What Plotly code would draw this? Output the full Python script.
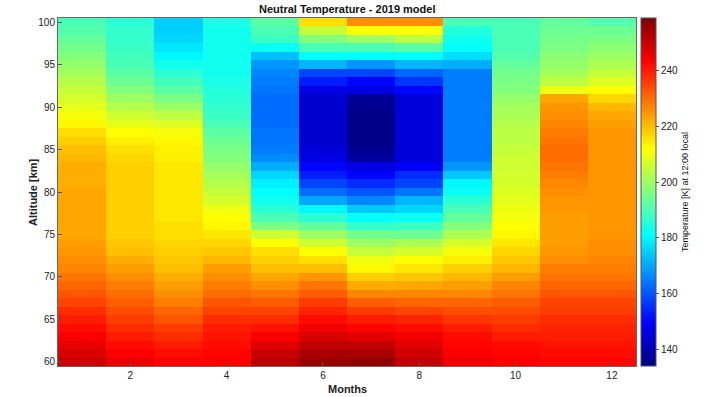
import plotly.graph_objects as go

months = list(range(1, 13))
altitudes = list(range(60, 101))  # km, bottom to top

# Temperature [K] per month, listed from 60 km to 100 km (1 km steps)
jan = [250, 248, 246, 244, 242, 240, 238, 235, 233, 231, 229, 227, 226, 225, 224, 223, 223, 223, 223, 223, 223,
       222, 222, 222, 221, 220, 218, 216, 213, 211, 209, 207, 205, 203, 201, 199, 197, 195, 193, 191, 190]
feb = [246, 244, 242, 240, 238, 236, 234, 232, 230, 228, 226, 224, 222, 220, 219, 218, 218, 218, 218, 218, 218,
       218, 218, 218, 217, 216, 214, 212, 209, 206, 203, 200, 197, 194, 192, 190, 189, 188, 187, 187, 186]
mar = [244, 242, 240, 238, 236, 233, 231, 228, 226, 224, 222, 220, 219, 218, 217, 216, 216, 215, 215, 215, 215,
       215, 215, 215, 214, 214, 213, 211, 208, 204, 200, 196, 192, 189, 186, 183, 180, 178, 176, 175, 175]
apr = [244, 243, 242, 241, 240, 238, 235, 233, 230, 228, 226, 224, 221, 219, 217, 215, 213, 212, 210, 207, 205,
       203, 201, 199, 197, 196, 194, 192, 190, 188, 187, 186, 185, 184, 183, 183, 183, 183, 183, 183, 184]
may = [252, 250, 247, 244, 241, 238, 235, 232, 229, 226, 223, 220, 218, 216, 212, 206, 196, 190, 186, 183, 181,
       179, 176, 171, 167, 165, 164, 164, 163, 163, 163, 163, 164, 165, 166, 168, 173, 182, 188, 190, 192]
jun = [256, 254, 251, 248, 245, 242, 239, 236, 232, 229, 225, 220, 216, 212, 206, 200, 193, 186, 180, 170, 163,
       158, 153, 150, 146, 145, 144, 144, 144, 144, 144, 144, 146, 153, 158, 172, 181, 190, 197, 205, 216]
jul = [257, 254, 251, 247, 243, 240, 236, 232, 227, 222, 218, 213, 210, 205, 200, 195, 187, 181, 174, 166, 160,
       155, 150, 146, 138, 136, 135, 135, 135, 135, 136, 137, 146, 150, 158, 168, 181, 190, 200, 212, 226]
aug = [251, 249, 247, 245, 242, 239, 235, 231, 227, 223, 219, 215, 212, 207, 202, 194, 188, 182, 176, 172, 164,
       158, 155, 149, 145, 145, 145, 145, 145, 145, 145, 145, 150, 156, 162, 172, 181, 192, 204, 212, 226]
sep = [245, 244, 243, 242, 240, 237, 234, 231, 227, 224, 221, 218, 214, 211, 207, 202, 197, 193, 190, 186, 182,
       180, 174, 168, 165, 165, 165, 165, 165, 165, 165, 165, 165, 165, 165, 171, 177, 181, 183, 185, 190]
oct_ = [244, 243, 242, 240, 238, 236, 234, 232, 229, 227, 224, 221, 219, 217, 215, 213, 212, 211, 210, 209, 208,
        207, 207, 206, 206, 205, 204, 204, 203, 202, 201, 199, 197, 196, 195, 193, 191, 190, 190, 190, 190]
nov = [243, 242, 241, 240, 239, 238, 236, 235, 233, 231, 229, 228, 226, 225, 224, 224, 224, 224, 225, 225, 226,
       227, 228, 229, 230, 230, 229, 228, 227, 226, 225, 223, 210, 204, 201, 199, 198, 196, 195, 194, 193]
dec = [243, 242, 241, 240, 239, 238, 236, 235, 233, 231, 229, 228, 227, 226, 226, 225, 225, 225, 225, 225, 225,
       225, 225, 225, 225, 225, 225, 225, 224, 223, 221, 217, 212, 208, 205, 202, 200, 198, 196, 194, 191]

by_month = [jan, feb, mar, apr, may, jun, jul, aug, sep, oct_, nov, dec]
z = [[col[i] for col in by_month] for i in range(len(altitudes))]

x_ticks = [2, 4, 6, 8, 10, 12]
y_ticks = [60, 65, 70, 75, 80, 85, 90, 95, 100]
cbar_ticks = [140, 160, 180, 200, 220, 240]

jet = [[0.0, 'rgb(0,0,128)'], [0.125, 'rgb(0,0,255)'], [0.375, 'rgb(0,255,255)'],
       [0.625, 'rgb(255,255,0)'], [0.875, 'rgb(255,0,0)'], [1.0, 'rgb(128,0,0)']]

FONT = "Liberation Sans, Arial, sans-serif"

fig = go.Figure(go.Heatmap(
    x=months, y=altitudes, z=z, colorscale=jet, zmin=134, zmax=259,
    colorbar=dict(
        x=1.0087, xanchor='left', xpad=0, y=0.5, yanchor='middle', ypad=0,
        len=1, lenmode='fraction', thickness=15,
        outlinewidth=1, outlinecolor='#555',
        tickvals=cbar_ticks, ticks='outside', ticklen=3, tickcolor='#555',
        tickfont=dict(family=FONT, size=10, color='#222'),
        title=dict(text='Temperature [K] at 12:00 local', side='right',
                   font=dict(family=FONT, size=9, color='#111')),
    ),
))

fig.update_layout(
    width=707, height=397,
    margin=dict(l=58, r=71, t=18, b=31),
    paper_bgcolor='white', plot_bgcolor='white',
    font=dict(family=FONT, color='#222'),
    xaxis=dict(range=[0.5, 12.5], tickvals=x_ticks, ticks='inside', ticklen=4, tickcolor='#555',
               showline=True, mirror=True, linecolor='#666', linewidth=1, showgrid=False, zeroline=False,
               tickfont=dict(family=FONT, size=10, color='#222')),
    yaxis=dict(range=[59.5, 100.5], tickvals=y_ticks, ticks='inside', ticklen=4, tickcolor='#555',
               showline=True, mirror=True, linecolor='#666', linewidth=1, showgrid=False, zeroline=False,
               tickfont=dict(family=FONT, size=10, color='#222')),
    annotations=[
        dict(text='<b>Neutral Temperature - 2019 model</b>', xref='paper', yref='paper', x=0.5, y=1,
             xanchor='center', yanchor='bottom', yshift=1, showarrow=False,
             font=dict(family=FONT, size=11, color='#111')),
        dict(text='<b>Months</b>', xref='paper', yref='paper', x=0.5, y=0,
             xanchor='center', yanchor='middle', yshift=-23, showarrow=False,
             font=dict(family=FONT, size=11, color='#222')),
        dict(text='<b>Altitude [km]</b>', xref='paper', yref='paper', x=0, y=0.5,
             xanchor='center', yanchor='middle', xshift=-25, textangle=-90, showarrow=False,
             font=dict(family=FONT, size=11, color='#222')),
    ],
)

fig.write_html("out.html")
